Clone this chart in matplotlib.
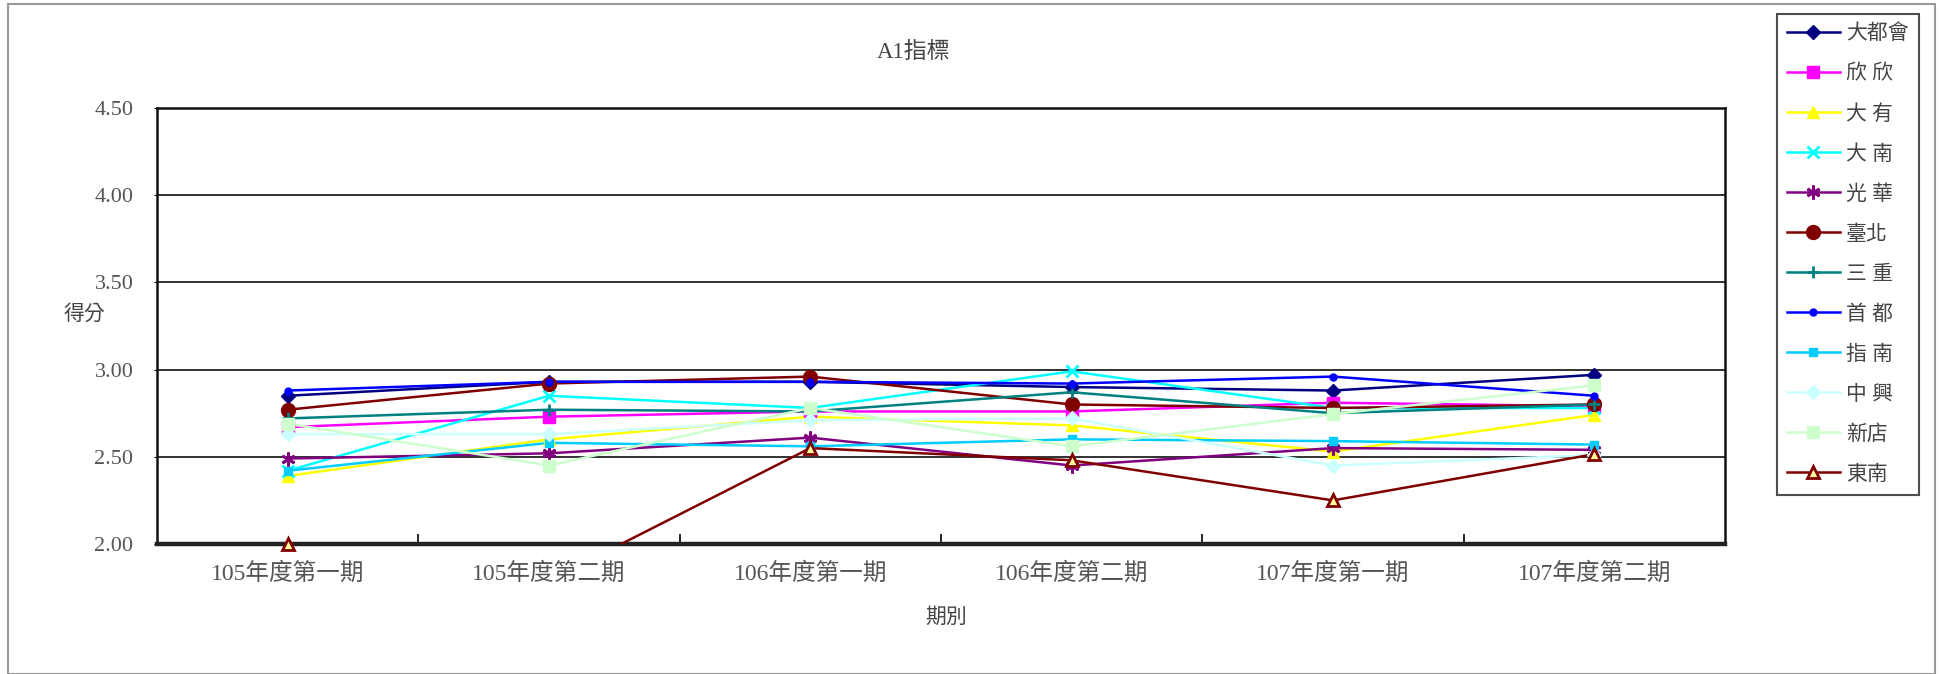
import matplotlib
matplotlib.use("Agg")
import matplotlib.pyplot as plt
from matplotlib.patches import Rectangle
import numpy as np

plt.rcParams['font.family'] = ['Liberation Serif', 'Noto Sans CJK TC', 'DejaVu Sans']

# ---- data -------------------------------------------------------------
periods = ['105年度第一期', '105年度第二期', '106年度第一期',
           '106年度第二期', '107年度第一期', '107年度第二期']

names = ['大都會', '欣 欣', '大 有', '大 南', '光 華', '臺北',
         '三 重', '首 都', '指 南', '中 興', '新店', '東南']

dadu_hui = [2.85, 2.93, 2.93, 2.90, 2.88, 2.97]
xinxin = [2.67, 2.73, 2.76, 2.76, 2.81, 2.79]
dayou = [2.39, 2.60, 2.73, 2.68, 2.53, 2.74]
danan = [2.42, 2.85, 2.78, 2.99, 2.78, 2.78]
guanghua = [2.49, 2.52, 2.61, 2.45, 2.55, 2.54]
taipei = [2.77, 2.92, 2.96, 2.80, 2.78, 2.80]
sanchong = [2.72, 2.77, 2.76, 2.87, 2.75, 2.80]
shoudu = [2.88, 2.93, 2.93, 2.92, 2.96, 2.85]
zhinan = [2.42, 2.58, 2.56, 2.60, 2.59, 2.57]
zhongxing = [2.63, 2.63, 2.71, 2.72, 2.45, 2.51]
xindian = [2.69, 2.45, 2.78, 2.56, 2.745, 2.91]
dongnan = [2.00, 1.79, 2.55, 2.48, 2.25, 2.515]

series = [dadu_hui, xinxin, dayou, danan, guanghua, taipei,
          sanchong, shoudu, zhinan, zhongxing, xindian, dongnan]

yticks = [2.00, 2.50, 3.00, 3.50, 4.00, 4.50]

# ---- styles -----------------------------------------------------------
styles = [
    dict(color='#000080', marker='D', ms=7, mfc='#000080', mec='#000080'),
    dict(color='#FF00FF', marker='s', ms=8, mfc='#FF00FF', mec='#FF00FF'),
    dict(color='#FFFF00', marker='^', ms=8, mfc='#FFFF00', mec='#FFFF00'),
    dict(color='#00FFFF', marker='x', ms=8, mfc='#00FFFF', mec='#00FFFF', mew=2),
    dict(color='#800080', marker=(6, 2, 0), ms=10, mfc='#800080', mec='#800080', mew=2),
    dict(color='#800000', marker='o', ms=10, mfc='#800000', mec='#800000'),
    dict(color='#008080', marker='+', ms=9, mfc='#008080', mec='#008080', mew=2),
    dict(color='#0000FF', marker='o', ms=5, mfc='#0000FF', mec='#0000FF'),
    dict(color='#00CCFF', marker='s', ms=6, mfc='#00CCFF', mec='#00CCFF'),
    dict(color='#CCFFFF', marker='D', ms=7, mfc='#CCFFFF', mec='#CCFFFF'),
    dict(color='#CCFFCC', marker='s', ms=9, mfc='#CCFFCC', mec='#CCFFCC'),
    dict(color='#800000', marker='^', ms=9, mfc='#FFFF99', mec='#800000', mew=2),
]

text_color = '#555555'

fig = plt.figure(figsize=(19.39, 6.74), dpi=100)
W, H = 1939, 674

# outer chart frame
fig.patches.append(Rectangle((8 / W, 0.0), 1927 / W, 1 - 4 / H,
                             transform=fig.transFigure, fill=False,
                             edgecolor='#999999', linewidth=1.5))

ax = fig.add_axes([157 / W, 1 - 544 / H, (1725 - 157) / W, (544 - 108) / H])

x = np.arange(len(periods))
ymin, ymax = 2.0, 4.5
handles = []
for vals, st in zip(series, styles):
    vals = np.asarray(vals, dtype=float)
    ax.plot(x, vals, color=st['color'], lw=1.8, zorder=3)
    vis = vals >= ymin
    ax.plot(x[vis], vals[vis], linestyle='None', marker=st['marker'],
            ms=st['ms'], mfc=st['mfc'], mec=st['mec'],
            mew=st.get('mew', 1.0), zorder=4, clip_on=False)
    h, = ax.plot([], [], color=st['color'], lw=1.8, marker=st['marker'],
                 ms=st['ms'], mfc=st['mfc'], mec=st['mec'],
                 mew=st.get('mew', 1.0))
    handles.append(h)

ax.set_xlim(-0.5, len(periods) - 0.5)
ax.set_ylim(ymin, ymax)
ax.set_yticks(yticks)
ax.set_yticklabels([f'{v:.2f}' for v in yticks])
ax.set_xticks(x)
ax.set_xticklabels(periods)
ax.set_xticks(np.arange(0.5, len(periods) - 1, 1.0), minor=True)

ax.yaxis.grid(True, color='#222222', linewidth=1.3, zorder=1)
ax.set_axisbelow(True)

for side in ['left', 'right', 'top']:
    ax.spines[side].set_linewidth(1.8)
    ax.spines[side].set_color('#111111')
ax.spines['bottom'].set_linewidth(3.2)
ax.spines['bottom'].set_color('#222222')

ax.tick_params(axis='y', length=2, pad=15, labelsize=16, labelcolor=text_color)
ax.tick_params(axis='x', which='major', length=0, pad=13, labelsize=17,
               labelcolor=text_color)
ax.tick_params(axis='x', which='minor', direction='in', length=7, width=1.2)

fig.text(914 / W, 1 - 52 / H, 'A1指標', ha='center', va='center',
         fontsize=16.5, color='#444444')
fig.text(84 / W, 1 - 315 / H, '得分', ha='center', va='center',
         fontsize=15, color='#444444')
fig.text(946 / W, 1 - 618 / H, '期別', ha='center', va='center',
         fontsize=15, color='#444444')

leg = fig.legend(handles, names, loc='upper left',
                 bbox_to_anchor=(1777 / W, 1 - 14 / H),
                 bbox_transform=fig.transFigure, borderaxespad=0,
                 fontsize=15, frameon=True, fancybox=False,
                 edgecolor='#222222', handlelength=2.5, handletextpad=0.3,
                 labelspacing=0.98, borderpad=0.5, labelcolor='#444444')
leg.get_frame().set_linewidth(1.5)

fig.savefig('out.png', dpi=100)
